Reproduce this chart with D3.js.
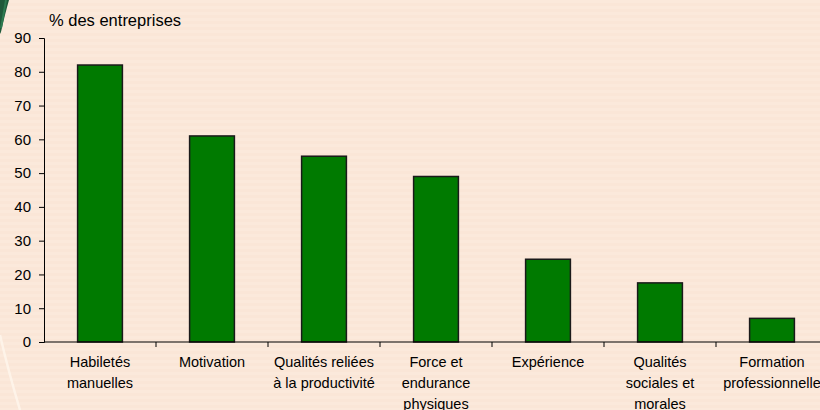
<!DOCTYPE html>
<html><head><meta charset="utf-8">
<script src="https://cdn.jsdelivr.net/npm/d3@7"></script>
<style>html,body{margin:0;padding:0;background:#fae6d7;}svg{display:block;}</style>
</head><body><svg id="c" width="820" height="410"></svg>
<script>
const categories = [
  ["Habiletés","manuelles"],
  ["Motivation"],
  ["Qualités reliées","à la productivité"],
  ["Force et","endurance","physiques"],
  ["Expérience"],
  ["Qualités","sociales et","morales"],
  ["Formation","professionnelle"]
];
const values = [82, 61, 55, 49, 24.5, 17.5, 7];
const yTicks = [0,10,20,30,40,50,60,70,80,90];
const yTitle = "% des entreprises";

const svg = d3.select("#c");
const W = 820, H = 410;
svg.append("rect").attr("width",W).attr("height",H).attr("fill","#fae6d7");
const stripes = d3.range(0, H, 6);
svg.append("g").selectAll("rect").data(stripes).enter().append("rect")
  .attr("x",0).attr("y",d=>d).attr("width",W).attr("height",3)
  .attr("fill","#fdeee2").attr("opacity",0.35);
svg.append("path").attr("d","M0,0 L9,0 Q5,14 1,32 L0,34 Z").attr("fill","#1f5a3a");
svg.append("path").attr("d","M6,0 Q4,12 1,28").attr("stroke","#2d7a50").attr("stroke-width",2).attr("fill","none");
svg.append("path").attr("d","M0,335 Q8,370 20,410").attr("stroke","#fff8f0").attr("stroke-width",2.5).attr("fill","none").attr("opacity",0.7);

const x0 = 44, y0 = 342, yTop = 38;
const x = d3.scaleBand().domain(d3.range(categories.length)).range([x0, x0 + 112*categories.length]).paddingInner(0.6).paddingOuter(0.3);
const y = d3.scaleLinear().domain([0,90]).range([y0, yTop]);

svg.append("g").selectAll("rect").data(values).enter().append("rect")
  .attr("x",(d,i)=>x(i)).attr("y",d=>y(d))
  .attr("width",x.bandwidth()).attr("height",d=>y0-y(d))
  .attr("fill","#007a00").attr("stroke","#1a1a1a").attr("stroke-width",1.5);

const ya = svg.append("g").attr("transform",`translate(${x0},0)`)
  .call(d3.axisLeft(y).tickValues(yTicks).tickSize(5).tickPadding(8).tickFormat(d3.format("d")));
ya.select(".domain").attr("stroke","#000").attr("stroke-width",1);
ya.selectAll(".tick line").attr("stroke","#000");
ya.selectAll("text").attr("font-family","Liberation Sans, Arial, sans-serif").attr("font-size",15).attr("fill","#000");

const step = x.step();
svg.append("line").attr("x1",x0).attr("x2",W).attr("y1",y0).attr("y2",y0).attr("stroke","#000").attr("stroke-width",1);
svg.append("g").selectAll("line").data(d3.range(1, categories.length)).enter().append("line")
  .attr("x1",i=>x0+i*step).attr("x2",i=>x0+i*step).attr("y1",y0).attr("y2",y0+5).attr("stroke","#000");

const lab = svg.append("g").attr("font-family","Liberation Sans, Arial, sans-serif").attr("font-size",14.5).attr("fill","#000").attr("text-anchor","middle");
categories.forEach((lines,i)=>{
  const t = lab.append("text").attr("x", x(i)+x.bandwidth()/2).attr("y",367);
  lines.forEach((l,j)=>t.append("tspan").attr("x",x(i)+x.bandwidth()/2).attr("dy", j===0?0:21).text(l));
});

svg.append("text").attr("x",49).attr("y",26).attr("font-family","Liberation Sans, Arial, sans-serif").attr("font-size",16.5).attr("fill","#000").text(yTitle);
</script></body></html>
